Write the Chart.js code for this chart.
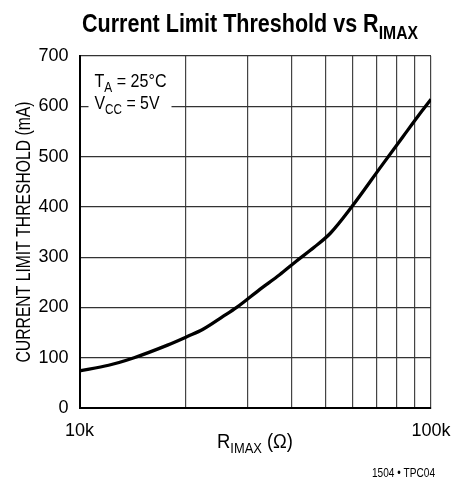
<!DOCTYPE html>
<html>
<head>
<meta charset="utf-8">
<script src="https://cdn.jsdelivr.net/npm/chart.js@4.4.0/dist/chart.umd.min.js"></script>
<style>
  html, body { margin: 0; padding: 0; background: #fff; }
  #wrap { width: 452px; height: 489px; position: relative; }
</style>
</head>
<body>
<div id="wrap"><canvas id="chart" width="452" height="489"></canvas></div>
<script>
// R_IMAX (ohm) and current limit threshold (mA)
const rImax = [10000, 12100, 14300, 17800, 20400, 22400, 25600, 28000, 32600, 37100, 41200, 46600, 51800, 59500, 72400, 83100, 94100, 100000];
const threshold = [74, 85, 100, 125, 143, 156, 182, 200, 236, 265, 291, 320, 348, 400, 482, 539, 590, 614];

const xTicks = [10000, 20000, 30000, 40000, 50000, 60000, 70000, 80000, 90000, 100000];
const xLabels = { 10000: '10k', 100000: '100k' };
const yTicks = [0, 100, 200, 300, 400, 500, 600, 700];

const FONT = "'Liberation Sans', Arial, sans-serif";

// text with lowered subscript parts, squeezed horizontally to a given width
function drawSub(ctx, parts, x, y, size, weight, width, align) {
    const subSize = Math.round(size * 0.72);
    let total = 0;
    parts.forEach(p => {
        ctx.font = `${weight} ${p.sub ? subSize : size}px ${FONT}`;
        p.w = ctx.measureText(p.t).width;
        total += p.w;
    });
    const sx = width ? width / total : 1;
    let start = x;
    if (align === 'center') start = x - total * sx / 2;
    if (align === 'right') start = x - total * sx;
    ctx.save();
    ctx.translate(start, y);
    ctx.scale(sx, 1);
    ctx.textAlign = 'left';
    ctx.textBaseline = 'alphabetic';
    let cx = 0;
    parts.forEach(p => {
        ctx.font = `${weight} ${p.sub ? subSize : size}px ${FONT}`;
        ctx.fillText(p.t, cx, p.sub ? size * 0.26 : 0);
        cx += p.w;
    });
    ctx.restore();
}

const decorations = {
    id: 'decorations',
    beforeDatasetsDraw(chart) {
        const ctx = chart.ctx;
        const a = chart.chartArea;
        ctx.save();
        // annotation box
        ctx.fillStyle = '#fff';
        ctx.fillRect(a.left + 9, a.top + 5, 83, 56);
        ctx.fillStyle = '#000';
        drawSub(ctx, [{ t: 'T' }, { t: 'A', sub: true }, { t: ' = 25°C' }], a.left + 15, a.top + 31, 19, 'normal', 72, 'left');
        drawSub(ctx, [{ t: 'V' }, { t: 'CC', sub: true }, { t: ' = 5V' }], a.left + 15, a.top + 53, 19, 'normal', 65, 'left');
        ctx.restore();
    },
    afterDraw(chart) {
        const ctx = chart.ctx;
        const a = chart.chartArea;
        ctx.save();
        ctx.fillStyle = '#000';
        // title
        drawSub(ctx, [{ t: 'Current Limit Threshold vs R' }, { t: 'IMAX', sub: true }], 250, 32, 26, 'bold', 336, 'center');
        // x axis title
        drawSub(ctx, [{ t: 'R' }, { t: 'IMAX', sub: true }, { t: ' (Ω)' }], 255, 448, 20, 'normal', 76, 'center');
        // footnote
        drawSub(ctx, [{ t: '1504 • TPC04' }], 435, 477, 13, 'normal', 63, 'right');
        // y axis title
        ctx.translate(30, (a.top + a.bottom) / 2);
        ctx.rotate(-Math.PI / 2);
        drawSub(ctx, [{ t: 'CURRENT LIMIT THRESHOLD (mA)' }], 0, 0, 20, 'normal', 261, 'center');
        ctx.restore();
    }
};

new Chart(document.getElementById('chart'), {
    type: 'scatter',
    data: {
        datasets: [{
            data: rImax.map((r, i) => ({ x: r, y: threshold[i] })),
            showLine: true,
            borderColor: '#000',
            borderWidth: 3.3,
            pointRadius: 0,
            cubicInterpolationMode: 'monotone'
        }]
    },
    options: {
        responsive: false,
        animation: false,
        layout: { padding: { top: 56, right: 21, left: 0, bottom: 0 } },
        plugins: { legend: { display: false }, tooltip: { enabled: false } },
        scales: {
            x: {
                type: 'logarithmic',
                min: 10000,
                max: 100000,
                afterFit: s => { s.height = 81; s.paddingLeft = 0; s.paddingRight = 0; },
                afterBuildTicks: s => { s.ticks = xTicks.map(v => ({ value: v })); },
                grid: { color: '#444', lineWidth: 1.2, drawTicks: false },
                border: { color: '#000', width: 2 },
                ticks: {
                    autoSkip: false,
                    maxRotation: 0,
                    padding: 12,
                    color: '#000',
                    font: { family: FONT, size: 18 },
                    callback: v => xLabels[v] || ''
                }
            },
            y: {
                min: 0,
                max: 700,
                afterFit: s => { s.width = 79.5; s.paddingTop = 0; s.paddingBottom = 0; },
                afterBuildTicks: s => { s.ticks = yTicks.map(v => ({ value: v })); },
                grid: { color: '#333', lineWidth: 1.2, drawTicks: false },
                border: { color: '#000', width: 2 },
                ticks: {
                    padding: 11,
                    color: '#000',
                    font: { family: FONT, size: 18 }
                }
            }
        }
    },
    plugins: [decorations]
});
</script>
</body>
</html>
